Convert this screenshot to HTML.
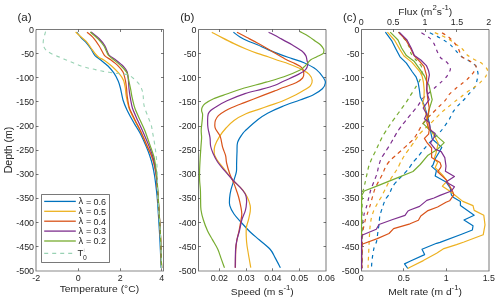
<!DOCTYPE html><html><head><meta charset="utf-8"><style>html,body{margin:0;padding:0;background:#fff;width:500px;height:301px;overflow:hidden}svg{display:block}text{font-family:"Liberation Sans",sans-serif;fill:#262626}</style></head><body>
<div style="will-change:transform;width:500px;height:301px"><svg width="500" height="301" viewBox="0 0 500 301">
<path d="M36.0 270.8V29.5" fill="none" stroke="#262626" stroke-width="1" stroke-opacity="0.6"/>
<path d="M36.0 29.5H163.5V270.8" fill="none" stroke="#262626" stroke-width="1" stroke-opacity="0.62"/>
<path d="M35.5 271.0H164.0" fill="none" stroke="#262626" stroke-width="1.4" stroke-opacity="0.36"/>
<path d="M36.0 53.5h2.5 M163.5 53.5h-2.5 M36.0 77.5h2.5 M163.5 77.5h-2.5 M36.0 101.5h2.5 M163.5 101.5h-2.5 M36.0 126.5h2.5 M163.5 126.5h-2.5 M36.0 150.5h2.5 M163.5 150.5h-2.5 M36.0 174.5h2.5 M163.5 174.5h-2.5 M36.0 198.5h2.5 M163.5 198.5h-2.5 M36.0 222.5h2.5 M163.5 222.5h-2.5 M36.0 246.5h2.5 M163.5 246.5h-2.5 M78.5 270.8v-2.5 M78.5 29.5v2.5 M120.5 270.8v-2.5 M120.5 29.5v2.5 M161.5 270.8v-2.5 M161.5 29.5v2.5" stroke="#262626" stroke-width="1" stroke-opacity="0.62" fill="none"/>
<text x="34" y="32.5" font-size="8.9" text-anchor="end">0</text>
<text x="34" y="56.63" font-size="8.9" text-anchor="end">-50</text>
<text x="34" y="80.76" font-size="8.9" text-anchor="end">-100</text>
<text x="34" y="104.89" font-size="8.9" text-anchor="end">-150</text>
<text x="34" y="129.02" font-size="8.9" text-anchor="end">-200</text>
<text x="34" y="153.15" font-size="8.9" text-anchor="end">-250</text>
<text x="34" y="177.28" font-size="8.9" text-anchor="end">-300</text>
<text x="34" y="201.41" font-size="8.9" text-anchor="end">-350</text>
<text x="34" y="225.54" font-size="8.9" text-anchor="end">-400</text>
<text x="34" y="249.67" font-size="8.9" text-anchor="end">-450</text>
<text x="34" y="273.8" font-size="8.9" text-anchor="end">-500</text>
<path d="M198.5 270.8V29.5" fill="none" stroke="#262626" stroke-width="1" stroke-opacity="0.66"/>
<path d="M198.5 29.5H326.0V270.8" fill="none" stroke="#262626" stroke-width="1" stroke-opacity="0.62"/>
<path d="M198.0 271.0H326.5" fill="none" stroke="#262626" stroke-width="1.4" stroke-opacity="0.36"/>
<path d="M198.5 53.5h2.5 M326.0 53.5h-2.5 M198.5 77.5h2.5 M326.0 77.5h-2.5 M198.5 101.5h2.5 M326.0 101.5h-2.5 M198.5 126.5h2.5 M326.0 126.5h-2.5 M198.5 150.5h2.5 M326.0 150.5h-2.5 M198.5 174.5h2.5 M326.0 174.5h-2.5 M198.5 198.5h2.5 M326.0 198.5h-2.5 M198.5 222.5h2.5 M326.0 222.5h-2.5 M198.5 246.5h2.5 M326.0 246.5h-2.5 M219.5 270.8v-2.5 M219.5 29.5v2.5 M246.5 270.8v-2.5 M246.5 29.5v2.5 M272.5 270.8v-2.5 M272.5 29.5v2.5 M299.5 270.8v-2.5 M299.5 29.5v2.5" stroke="#262626" stroke-width="1" stroke-opacity="0.62" fill="none"/>
<text x="196.5" y="32.5" font-size="8.9" text-anchor="end">0</text>
<text x="196.5" y="56.63" font-size="8.9" text-anchor="end">-50</text>
<text x="196.5" y="80.76" font-size="8.9" text-anchor="end">-100</text>
<text x="196.5" y="104.89" font-size="8.9" text-anchor="end">-150</text>
<text x="196.5" y="129.02" font-size="8.9" text-anchor="end">-200</text>
<text x="196.5" y="153.15" font-size="8.9" text-anchor="end">-250</text>
<text x="196.5" y="177.28" font-size="8.9" text-anchor="end">-300</text>
<text x="196.5" y="201.41" font-size="8.9" text-anchor="end">-350</text>
<text x="196.5" y="225.54" font-size="8.9" text-anchor="end">-400</text>
<text x="196.5" y="249.67" font-size="8.9" text-anchor="end">-450</text>
<text x="196.5" y="273.8" font-size="8.9" text-anchor="end">-500</text>
<path d="M361.5 270.8V29.5" fill="none" stroke="#262626" stroke-width="1" stroke-opacity="0.66"/>
<path d="M361.5 29.5H489.0V270.8" fill="none" stroke="#262626" stroke-width="1" stroke-opacity="0.62"/>
<path d="M361.0 271.0H489.5" fill="none" stroke="#262626" stroke-width="1.4" stroke-opacity="0.36"/>
<path d="M361.5 53.5h2.5 M361.5 77.5h2.5 M361.5 101.5h2.5 M361.5 126.5h2.5 M361.5 150.5h2.5 M361.5 174.5h2.5 M361.5 198.5h2.5 M361.5 222.5h2.5 M361.5 246.5h2.5 M403.5 270.8v-2.5 M446.5 270.8v-2.5 M393.5 29.5v2.5 M425.5 29.5v2.5 M456.5 29.5v2.5" stroke="#262626" stroke-width="1" stroke-opacity="0.62" fill="none"/>
<text x="359.5" y="32.5" font-size="8.9" text-anchor="end">0</text>
<text x="359.5" y="56.63" font-size="8.9" text-anchor="end">-50</text>
<text x="359.5" y="80.76" font-size="8.9" text-anchor="end">-100</text>
<text x="359.5" y="104.89" font-size="8.9" text-anchor="end">-150</text>
<text x="359.5" y="129.02" font-size="8.9" text-anchor="end">-200</text>
<text x="359.5" y="153.15" font-size="8.9" text-anchor="end">-250</text>
<text x="359.5" y="177.28" font-size="8.9" text-anchor="end">-300</text>
<text x="359.5" y="201.41" font-size="8.9" text-anchor="end">-350</text>
<text x="359.5" y="225.54" font-size="8.9" text-anchor="end">-400</text>
<text x="359.5" y="249.67" font-size="8.9" text-anchor="end">-450</text>
<text x="359.5" y="273.8" font-size="8.9" text-anchor="end">-500</text>
<text x="36.2" y="280.6" font-size="8.9" text-anchor="middle">-2</text>
<text x="78.3" y="280.6" font-size="8.9" text-anchor="middle">0</text>
<text x="120.2" y="280.6" font-size="8.9" text-anchor="middle">2</text>
<text x="161.8" y="280.6" font-size="8.9" text-anchor="middle">4</text>
<text x="219.4" y="280.6" font-size="8.9" text-anchor="middle">0.02</text>
<text x="246.1" y="280.6" font-size="8.9" text-anchor="middle">0.03</text>
<text x="272.8" y="280.6" font-size="8.9" text-anchor="middle">0.04</text>
<text x="299.5" y="280.6" font-size="8.9" text-anchor="middle">0.05</text>
<text x="326.2" y="280.6" font-size="8.9" text-anchor="middle">0.06</text>
<text x="361.3" y="280.6" font-size="8.9" text-anchor="middle">0</text>
<text x="403.8" y="280.6" font-size="8.9" text-anchor="middle">0.5</text>
<text x="446.3" y="280.6" font-size="8.9" text-anchor="middle">1</text>
<text x="488.8" y="280.6" font-size="8.9" text-anchor="middle">1.5</text>
<text x="361.3" y="25.1" font-size="8.9" text-anchor="middle">0</text>
<text x="393.18" y="25.1" font-size="8.9" text-anchor="middle">0.5</text>
<text x="425.05" y="25.1" font-size="8.9" text-anchor="middle">1</text>
<text x="456.93" y="25.1" font-size="8.9" text-anchor="middle">1.5</text>
<text x="488.8" y="25.1" font-size="8.9" text-anchor="middle">2</text>
<g transform="translate(17.4,20.7) scale(1,0.92)"><text x="0" y="0" font-size="11.6" text-anchor="start">(a)</text></g>
<g transform="translate(180.2,20.7) scale(1,0.92)"><text x="0" y="0" font-size="11.6" text-anchor="start">(b)</text></g>
<g transform="translate(343.0,20.7) scale(1,0.92)"><text x="0" y="0" font-size="11.6" text-anchor="start">(c)</text></g>
<g transform="translate(99.4,292.2) scale(1,0.92)"><text x="0" y="0" font-size="10.3" text-anchor="middle" textLength="79.5" lengthAdjust="spacing">Temperature (°C)</text></g>
<g transform="translate(262.3,295.0) scale(1,0.92)"><text x="0" y="0" font-size="10.3" text-anchor="middle">Speed (m s<tspan dy="-4.9" font-size="7.8">-1</tspan><tspan dy="4.9">)</tspan></text></g>
<g transform="translate(425.1,295.0) scale(1,0.92)"><text x="0" y="0" font-size="10.3" text-anchor="middle">Melt rate (m d<tspan dy="-4.9" font-size="7.8">-1</tspan><tspan dy="4.9">)</tspan></text></g>
<g transform="translate(425.2,14.9) scale(1,0.92)"><text x="0" y="0" font-size="10.3" text-anchor="middle">Flux (m<tspan dy="-4.9" font-size="7.8">2</tspan><tspan dy="4.9">s</tspan><tspan dy="-4.9" font-size="7.8">-1</tspan><tspan dy="4.9">)</tspan></text></g>
<g transform="translate(12.2,150) rotate(-90) scale(1,1.0)"><text x="0" y="0" font-size="10.6" text-anchor="middle" textLength="46.5" lengthAdjust="spacing">Depth (m)</text></g>
<path d="M76.8 32.2 C77.29 32.82 79.86 36.24 81 37.5 C82.14 38.76 85.43 41.66 86.6 43 C87.77 44.34 90.02 47.53 91 49 C91.98 50.47 93.86 54.32 95 55.6 C96.14 56.88 99.28 58.79 100.8 60 C102.32 61.21 106.46 64.46 108 66 C109.54 67.54 112.81 71.45 114 73.2 C115.19 74.95 117.45 79.27 118.2 81 C118.95 82.73 119.84 85.78 120.4 88 C120.96 90.22 122.23 97.43 123 100 C123.77 102.57 125.72 107.32 127 110 C128.28 112.68 132.48 120.32 134 123 C135.52 125.68 138.6 130.32 140 133 C141.4 135.68 144.89 143.43 146 146 C147.11 148.57 148.74 152.78 149.5 155 C150.26 157.22 151.91 162.55 152.5 165 C153.09 167.45 154.14 173.08 154.6 176 C155.06 178.92 156.07 187.2 156.4 190 C156.73 192.8 157.03 194.87 157.4 200 C157.77 205.13 159.16 226.07 159.6 234 C160.04 241.93 161.01 264.03 161.2 268" stroke="#0072BD" stroke-width="1.2" fill="none"/>
<path d="M75.6 32 C76.11 32.47 78.79 34.93 80 36 C81.21 37.07 84.72 39.8 86 41.2 C87.28 42.6 89.95 46.56 91 48 C92.05 49.44 94.07 52.39 95 53.5 C95.93 54.61 97.97 56.74 99 57.5 C100.03 58.26 102.33 59.01 103.8 60 C105.27 60.99 109.85 64.46 111.6 66 C113.35 67.54 117.4 71.52 118.8 73.2 C120.2 74.88 122.83 78.58 123.6 80.4 C124.37 82.22 125.1 86.98 125.4 88.8 C125.7 90.62 125.78 93.76 126.2 96 C126.62 98.24 128.03 105.2 129 108 C129.97 110.8 133.16 117.32 134.5 120 C135.84 122.68 138.93 127.73 140.5 131 C142.07 134.27 146.66 144.97 148 148 C149.34 151.03 151.23 154.9 152 157 C152.77 159.1 154.1 163.78 154.6 166 C155.1 168.22 155.96 173.2 156.3 176 C156.64 178.8 157.28 187.2 157.5 190 C157.72 192.8 157.86 194.87 158.2 200 C158.54 205.13 160 226.07 160.4 234 C160.8 241.93 161.46 264.03 161.6 268" stroke="#EDB120" stroke-width="1.2" fill="none"/>
<path d="M87 32.2 C87.72 32.83 91.78 35.99 93.2 37.6 C94.62 39.21 97.87 43.9 99.2 46 C100.53 48.1 103.22 53.97 104.6 55.6 C105.98 57.23 109.48 58.86 111 60 C112.52 61.14 116.2 64 117.6 65.4 C119 66.8 122.09 70.25 123 72 C123.91 73.75 124.98 78.44 125.4 80.4 C125.82 82.36 126.39 86.98 126.6 88.8 C126.81 90.62 126.87 93.76 127.2 96 C127.53 98.24 128.49 105.2 129.4 108 C130.31 110.8 133.71 117.32 135 120 C136.29 122.68 138.98 127.73 140.5 131 C142.02 134.27 146.66 144.97 148 148 C149.34 151.03 151.23 154.9 152 157 C152.77 159.1 154.1 163.78 154.6 166 C155.1 168.22 155.96 173.2 156.3 176 C156.64 178.8 157.28 187.2 157.5 190 C157.72 192.8 157.86 194.87 158.2 200 C158.54 205.13 160 226.07 160.4 234 C160.8 241.93 161.46 264.03 161.6 268" stroke="#D95319" stroke-width="1.2" fill="none"/>
<path d="M91 32 C91.93 32.76 97.37 36.87 99 38.5 C100.63 40.13 103.83 44.08 105 46 C106.17 47.92 107.74 53.37 109 55 C110.26 56.63 114.1 58.65 115.8 60 C117.5 61.35 122.27 65.2 123.6 66.6 C124.93 68 126.64 70.39 127.2 72 C127.76 73.61 128.19 78.44 128.4 80.4 C128.61 82.36 128.81 86.98 129 88.8 C129.19 90.62 129.6 93.76 130 96 C130.4 98.24 131.53 105.2 132.4 108 C133.28 110.8 136.31 117.32 137.5 120 C138.69 122.68 141.16 127.73 142.6 131 C144.03 134.27 148.59 144.97 149.8 148 C151.01 151.03 152.39 154.9 153 157 C153.61 159.1 154.59 163.78 155 166 C155.41 168.22 156.2 173.2 156.5 176 C156.8 178.8 157.39 187.2 157.6 190 C157.81 192.8 157.97 194.87 158.3 200 C158.63 205.13 160.02 226.07 160.4 234 C160.78 241.93 161.46 264.03 161.6 268" stroke="#7E2F8E" stroke-width="1.2" fill="none"/>
<path d="M90.2 32 C91.11 32.79 96.39 37.17 98 38.8 C99.61 40.43 102.81 44.11 104 46 C105.19 47.89 107.03 53.37 108.2 55 C109.37 56.63 112.48 58.72 114 60 C115.52 61.28 119.66 64.46 121.2 66 C122.74 67.54 126.29 71.38 127.2 73.2 C128.11 75.02 128.58 79.64 129 81.6 C129.42 83.56 130.47 88.32 130.8 90 C131.13 91.68 131.33 93.9 131.8 96 C132.27 98.1 133.84 105.2 134.8 108 C135.76 110.8 138.81 117.32 140 120 C141.19 122.68 143.72 127.73 145 131 C146.28 134.27 149.95 144.97 151 148 C152.05 151.03 153.46 154.9 154 157 C154.54 159.1 155.27 163.78 155.6 166 C155.93 168.22 156.54 173.2 156.8 176 C157.06 178.8 157.61 187.2 157.8 190 C157.99 192.8 158.1 194.87 158.4 200 C158.7 205.13 160.03 226.07 160.4 234 C160.77 241.93 161.46 264.03 161.6 268" stroke="#77AC30" stroke-width="1.2" fill="none"/>
<path d="M45.6 31.6 C45.23 33 43.73 37.6 43.4 40 C43.07 42.4 43.13 44.3 43.6 46 C44.07 47.7 44.87 48.9 46.2 50.2 C47.53 51.5 49.3 52.6 51.6 53.8 C53.9 55 57.4 56.3 60 57.4 C62.6 58.5 64.8 59.4 67.2 60.4 C69.6 61.4 72.1 62.47 74.4 63.4 C76.7 64.33 78.6 65.2 81 66 C83.4 66.8 86.4 67.6 88.8 68.2 C91.2 68.8 93 69.07 95.4 69.6 C97.8 70.13 100.5 70.9 103.2 71.4 C105.9 71.9 108.8 72.2 111.6 72.6 C114.4 73 117.2 73.4 120 73.8 C122.8 74.2 126 74.1 128.4 75 C130.8 75.9 132.5 77.53 134.4 79.2 C136.3 80.87 138.47 83 139.8 85 C141.13 87 141.83 89.37 142.4 91.2 C142.97 93.03 142.9 93.53 143.2 96 C143.5 98.47 143.3 102.3 144.2 106 C145.1 109.7 147.43 115.03 148.6 118.2 C149.77 121.37 150.55 122.7 151.2 125 C151.85 127.3 151.83 128.17 152.5 132 C153.17 135.83 154.45 142.33 155.2 148 C155.95 153.67 156.53 157.33 157 166 C157.47 174.67 157.43 188.67 158 200 C158.57 211.33 159.8 222.67 160.4 234 C161 245.33 161.4 262.33 161.6 268" stroke="#99d2b4" stroke-width="1.1" fill="none" stroke-dasharray="3.8 4"/>
<path d="M233.4 32.2 C234.5 33 237.5 35.5 240 37 C242.5 38.5 245.5 39.9 248.4 41.2 C251.3 42.5 254.13 43.4 257.4 44.8 C260.67 46.2 264.23 48 268 49.6 C271.77 51.2 276 52.9 280 54.4 C284 55.9 288 57.2 292 58.6 C296 60 299.93 60.97 304 62.8 C308.07 64.63 313.13 67.07 316.4 69.6 C319.67 72.13 322.1 75.8 323.6 78 C325.1 80.2 325.6 81 325.4 82.8 C325.2 84.6 324.47 86.77 322.4 88.8 C320.33 90.83 316.73 93.13 313 95 C309.27 96.87 305.17 98.07 300 100 C294.83 101.93 287.4 104.4 282 106.6 C276.6 108.8 271.6 111.05 267.6 113.2 C263.6 115.35 261.6 116.7 258 119.5 C254.4 122.3 248.6 127.58 246 130 C243.4 132.42 243.8 131.93 242.4 134 C241 136.07 238.5 139.4 237.6 142.4 C236.7 145.4 237.17 148.4 237 152 C236.83 155.6 236.7 160.73 236.6 164 C236.5 167.27 236.83 168.93 236.4 171.6 C235.97 174.27 234.9 177 234 180 C233.1 183 231.73 186.6 231 189.6 C230.27 192.6 229.8 195.33 229.6 198 C229.4 200.67 229.07 202.93 229.8 205.6 C230.53 208.27 232.1 211.2 234 214 C235.9 216.8 238.5 219.4 241.2 222.4 C243.9 225.4 247.2 229.1 250.2 232 C253.2 234.9 255.85 236.88 259.2 239.8 C262.55 242.72 267.63 246.48 270.3 249.5 C272.97 252.52 273.52 254.87 275.2 257.9 C276.88 260.93 279.53 266.07 280.4 267.7" stroke="#0072BD" stroke-width="1.2" fill="none"/>
<path d="M211.8 32.2 C213.5 33.1 218.3 35.7 222 37.6 C225.7 39.5 230 41.7 234 43.6 C238 45.5 242.1 47.37 246 49 C249.9 50.63 253.73 52.1 257.4 53.4 C261.07 54.7 264.65 55.67 268 56.8 C271.35 57.93 274 59 277.5 60.2 C281 61.4 284.92 62.43 289 64 C293.08 65.57 298.63 67.87 302 69.6 C305.37 71.33 307.5 72.6 309.2 74.4 C310.9 76.2 312 78.5 312.2 80.4 C312.4 82.3 311.7 84.2 310.4 85.8 C309.1 87.4 306.8 88.5 304.4 90 C302 91.5 299.73 92.93 296 94.8 C292.27 96.67 286.33 99.43 282 101.2 C277.67 102.97 274 104 270 105.4 C266 106.8 262 108.2 258 109.6 C254 111 250 112 246 113.8 C242 115.6 237.33 118.03 234 120.4 C230.67 122.77 228.4 125.33 226 128 C223.6 130.67 221.47 133.4 219.6 136.4 C217.73 139.4 215.7 143.2 214.8 146 C213.9 148.8 214 151.2 214.2 153.2 C214.4 155.2 215.2 156.45 216 158 C216.8 159.55 217.5 160.5 219 162.5 C220.5 164.5 222.7 167.08 225 170 C227.3 172.92 229.9 176.73 232.8 180 C235.7 183.27 240 186.77 242.4 189.6 C244.8 192.43 245.9 194.33 247.2 197 C248.5 199.67 249.7 203.17 250.2 205.6 C250.7 208.03 250.5 209.2 250.2 211.6 C249.9 214 249.05 217.2 248.4 220 C247.75 222.8 246.6 224.73 246.3 228.4 C246 232.07 246.25 237.73 246.6 242 C246.95 246.27 247.7 249.72 248.4 254 C249.1 258.28 250.4 265.42 250.8 267.7" stroke="#EDB120" stroke-width="1.2" fill="none"/>
<path d="M237 32.2 C238.5 33 242.6 35.2 246 37 C249.4 38.8 253.73 41 257.4 43 C261.07 45 264.23 46.83 268 49 C271.77 51.17 276.83 54.17 280 56 C283.17 57.83 284.5 58.73 287 60 C289.5 61.27 292.5 62.3 295 63.6 C297.5 64.9 300.53 66.2 302 67.8 C303.47 69.4 303.7 71.5 303.8 73.2 C303.9 74.9 303.9 76.4 302.6 78 C301.3 79.6 299.1 81.27 296 82.8 C292.9 84.33 287.5 85.87 284 87.2 C280.5 88.53 278.5 89.43 275 90.8 C271.5 92.17 268 93.47 263 95.4 C258 97.33 250.17 100.38 245 102.4 C239.83 104.42 235.33 106.07 232 107.5 C228.67 108.93 227.27 109.65 225 111 C222.73 112.35 220 114.03 218.4 115.6 C216.8 117.17 216 118.8 215.4 120.4 C214.8 122 214.77 123.77 214.8 125.2 C214.83 126.63 214.7 127.13 215.6 129 C216.5 130.87 219.03 133.37 220.2 136.4 C221.37 139.43 221.7 144 222.6 147.2 C223.5 150.4 224.93 152.97 225.6 155.6 C226.27 158.23 225.9 159.93 226.6 163 C227.3 166.07 228.57 170.57 229.8 174 C231.03 177.43 232.8 180.6 234 183.6 C235.2 186.6 236.23 189.77 237 192 C237.77 194.23 238 194.73 238.6 197 C239.2 199.27 240.07 202.77 240.6 205.6 C241.13 208.43 241.8 211.2 241.8 214 C241.8 216.8 241.07 219.57 240.6 222.4 C240.13 225.23 239.6 228.13 239 231 C238.4 233.87 237.53 236.57 237 239.6 C236.47 242.63 236.07 244.52 235.8 249.2 C235.53 253.88 235.47 264.62 235.4 267.7" stroke="#D95319" stroke-width="1.2" fill="none"/>
<path d="M268.6 32.2 C270.5 33.2 276.1 36.1 280 38.2 C283.9 40.3 288.4 42.7 292 44.8 C295.6 46.9 299.3 49 301.6 50.8 C303.9 52.6 304.9 53.98 305.8 55.6 C306.7 57.22 306.67 59.02 307 60.5 C307.33 61.98 308.03 62.98 307.8 64.5 C307.57 66.02 307.17 67.95 305.6 69.6 C304.03 71.25 302 72.5 298.4 74.4 C294.8 76.3 287.9 79.2 284 81 C280.1 82.8 278.67 83.83 275 85.2 C271.33 86.57 267 87.8 262 89.2 C257 90.6 250.83 91.67 245 93.6 C239.17 95.53 232 98.5 227 100.8 C222 103.1 217.73 105.78 215 107.4 C212.27 109.02 211.73 109.4 210.6 110.5 C209.47 111.6 208.7 112.35 208.2 114 C207.7 115.65 207.63 118.07 207.6 120.4 C207.57 122.73 207.6 125.13 208 128 C208.4 130.87 209.57 134.6 210 137.6 C210.43 140.6 210.1 143.4 210.6 146 C211.1 148.6 211.83 150.53 213 153.2 C214.17 155.87 215.7 159.13 217.6 162 C219.5 164.87 221.87 167.4 224.4 170.4 C226.93 173.4 230.2 177.2 232.8 180 C235.4 182.8 238 185 240 187.2 C242 189.4 243.77 191.57 244.8 193.2 C245.83 194.83 245.9 195.53 246.2 197 C246.5 198.47 246.73 199.77 246.6 202 C246.47 204.23 246.2 207.4 245.4 210.4 C244.6 213.4 242.8 216.57 241.8 220 C240.8 223.43 240.2 227.73 239.4 231 C238.6 234.27 237.63 236.57 237 239.6 C236.37 242.63 235.9 244.52 235.6 249.2 C235.3 253.88 235.27 264.62 235.2 267.7" stroke="#7E2F8E" stroke-width="1.2" fill="none"/>
<path d="M300 31.6 C301.47 32.4 306.23 34.8 308.8 36.4 C311.37 38 313.47 39.8 315.4 41.2 C317.33 42.6 319.03 43.5 320.4 44.8 C321.77 46.1 323.03 47.88 323.6 49 C324.17 50.12 323.93 50.7 323.8 51.5 C323.67 52.3 323.97 52.92 322.8 53.8 C321.63 54.68 318.8 55.8 316.8 56.8 C314.8 57.8 312.37 58.7 310.8 59.8 C309.23 60.9 308.53 62.2 307.4 63.4 C306.27 64.6 305.3 65.87 304 67 C302.7 68.13 302.93 68.57 299.6 70.2 C296.27 71.83 289.6 74.8 284 76.8 C278.4 78.8 273 80.2 266 82.2 C259 84.2 248.53 86.83 242 88.8 C235.47 90.77 231.53 92.33 226.8 94 C222.07 95.67 217.2 97.2 213.6 98.8 C210 100.4 207.1 102.2 205.2 103.6 C203.3 105 202.8 106 202.2 107.2 C201.6 108.4 201.53 109.6 201.6 110.8 C201.67 112 202.5 112.8 202.6 114.4 C202.7 116 202.43 117.8 202.2 120.4 C201.97 123 201.3 127.13 201.2 130 C201.1 132.87 201.63 134.93 201.6 137.6 C201.57 140.27 201.23 142.6 201 146 C200.77 149.4 200.43 154 200.2 158 C199.97 162 199.7 166.33 199.6 170 C199.5 173.67 199.47 176.67 199.6 180 C199.73 183.33 200.23 186.67 200.4 190 C200.57 193.33 200.5 196.67 200.6 200 C200.7 203.33 200.53 206.67 201 210 C201.47 213.33 202.3 216.5 203.4 220 C204.5 223.5 206.1 227.73 207.6 231 C209.1 234.27 210.7 236.57 212.4 239.6 C214.1 242.63 216.4 246.2 217.8 249.2 C219.2 252.2 219.8 254.8 220.8 257.6 C221.8 260.4 223.18 264.32 223.8 266 C224.42 267.68 224.38 267.42 224.5 267.7" stroke="#77AC30" stroke-width="1.2" fill="none"/>
<path d="M429.8 32.8 C430.54 33.16 435.74 35.62 437.2 36.4 C438.66 37.18 443.02 39.7 444.4 40.6 C445.78 41.5 449.8 44.32 451 45.4 C452.2 46.48 455.32 50.26 456.4 51.4 C457.48 52.54 460.6 55.9 461.8 56.8 C463 57.7 467.02 59.52 468.4 60.4 C469.78 61.28 474.64 64.3 475.6 65.6 C476.56 66.9 477.88 71.84 478 73.4 C478.12 74.96 477.16 79.76 476.8 81.2 C476.44 82.64 475.12 86.6 474.4 87.8 C473.68 89 470.58 92.08 469.6 93.2 C468.62 94.32 465.76 97.76 464.6 99 C463.44 100.24 459.14 104.34 458 105.6 C456.86 106.86 454.04 110.28 453.2 111.6 C452.36 112.92 450.44 117.36 449.6 118.8 C448.76 120.24 445.7 124.74 444.8 126 C443.9 127.26 441.88 130 440.6 131.4 C439.32 132.8 433.68 138.22 432 140 C430.32 141.78 425.12 147.62 423.8 149.2 C422.48 150.78 419.88 154.48 418.8 155.8 C417.72 157.12 414.02 161.1 413 162.4 C411.98 163.7 409.58 167.56 408.6 168.8 C407.62 170.04 404.28 173.66 403.2 174.8 C402.12 175.94 398.88 179 397.8 180.2 C396.72 181.4 393.24 185.42 392.4 186.8 C391.56 188.18 390.12 192.7 389.4 194 C388.68 195.3 385.92 198.38 385.2 199.8 C384.48 201.22 382.74 206.58 382.2 208.2 C381.66 209.82 380.1 214.5 379.8 216 C379.5 217.5 379.38 221.7 379.2 223.2 C379.02 224.7 378.26 229.19 378 231 C377.74 232.81 377 239.6 376.6 241.3 C376.2 243 374.4 246.54 374 248 C373.6 249.46 372.83 254.31 372.6 255.9 C372.37 257.49 371.81 262.69 371.7 263.9 C371.59 265.11 371.52 267.59 371.5 268" stroke="#0072BD" stroke-width="1.2" fill="none" stroke-dasharray="3.8 4"/>
<path d="M434.8 32.6 C435.52 32.92 440.56 35.12 442 35.8 C443.44 36.48 447.82 38.56 449.2 39.4 C450.58 40.24 454.48 43.24 455.8 44.2 C457.12 45.16 461.26 47.92 462.4 49 C463.54 50.08 466.06 53.98 467.2 55 C468.34 56.02 472.42 58.42 473.8 59.2 C475.18 59.98 479.74 61.92 481 62.8 C482.26 63.68 485.74 67.18 486.4 68 C487.06 68.82 487.66 70.16 487.6 71 C487.54 71.84 486.52 75.26 485.8 76.4 C485.08 77.54 481.54 81.32 480.4 82.4 C479.26 83.48 475.72 86.24 474.4 87.2 C473.08 88.16 468.52 91.04 467.2 92 C465.88 92.96 462.42 95.86 461.2 96.8 C459.98 97.74 456.28 100.4 455 101.4 C453.72 102.4 449.66 105.78 448.4 106.8 C447.14 107.82 443.6 110.52 442.4 111.6 C441.2 112.68 437.54 116.46 436.4 117.6 C435.26 118.74 432.14 121.92 431 123 C429.86 124.08 426.22 127.22 425 128.4 C423.78 129.58 419.84 133.5 418.8 134.8 C417.76 136.1 415.5 140.08 414.6 141.4 C413.7 142.72 410.76 146.68 409.8 148 C408.84 149.32 405.9 153.22 405 154.6 C404.1 155.98 401.52 160.44 400.8 161.8 C400.08 163.16 398.58 166.84 397.8 168.2 C397.02 169.56 393.9 174.02 393 175.4 C392.1 176.78 389.58 180.62 388.8 182 C388.02 183.38 385.92 187.76 385.2 189.2 C384.48 190.64 382.38 194.98 381.6 196.4 C380.82 197.82 378.18 201.98 377.4 203.4 C376.62 204.82 374.4 209.16 373.8 210.6 C373.2 212.04 371.76 216.3 371.4 217.8 C371.04 219.3 370.38 224.1 370.2 225.6 C370.02 227.1 369.82 228.57 369.6 232.8 C369.38 237.03 368.16 264.39 368 267.9" stroke="#EDB120" stroke-width="1.2" fill="none" stroke-dasharray="3.8 4"/>
<path d="M442 32.8 C442.66 33.22 447.34 35.98 448.6 37 C449.86 38.02 453.58 41.74 454.6 43 C455.62 44.26 458.08 48.22 458.8 49.6 C459.52 50.98 460.78 55.72 461.8 56.8 C462.82 57.88 467.74 59.64 469 60.4 C470.26 61.16 473.68 63.76 474.4 64.4 C475.12 65.04 476.32 65.96 476.2 66.8 C476.08 67.64 474.1 71.54 473.2 72.8 C472.3 74.06 468.4 78.26 467.2 79.4 C466 80.54 462.4 83.24 461.2 84.2 C460 85.16 456.4 87.98 455.2 89 C454 90.02 450.18 93.28 449.2 94.4 C448.22 95.52 446.44 98.96 445.4 100.2 C444.36 101.44 440.06 105.54 438.8 106.8 C437.54 108.06 434 111.6 432.8 112.8 C431.6 114 427.88 117.6 426.8 118.8 C425.72 120 422.82 123.58 422 124.8 C421.18 126.02 419.4 129.64 418.6 131 C417.8 132.36 415.06 137.06 414 138.4 C412.94 139.74 409.2 143.26 408 144.4 C406.8 145.54 403.2 148.72 402 149.8 C400.8 150.88 397.2 154.12 396 155.2 C394.8 156.28 391.02 159.48 390 160.6 C388.98 161.72 386.58 164.98 385.8 166.4 C385.02 167.82 382.92 173.3 382.2 174.8 C381.48 176.3 379.32 180.02 378.6 181.4 C377.88 182.78 375.6 187.1 375 188.6 C374.4 190.1 373.08 194.74 372.6 196.4 C372.12 198.06 370.68 203.6 370.2 205.2 C369.72 206.8 368.28 210.96 367.8 212.4 C367.32 213.84 365.82 218.1 365.4 219.6 C364.98 221.1 363.89 225.86 363.6 227.4 C363.31 228.94 362.66 230.94 362.5 235 C362.34 239.06 362.05 264.7 362 268" stroke="#D95319" stroke-width="1.2" fill="none" stroke-dasharray="3.8 4"/>
<path d="M421.4 32.8 C422.18 33.28 427.94 36.52 429.2 37.6 C430.46 38.68 433.2 42.22 434 43.6 C434.8 44.98 436.52 49.96 437.2 51.4 C437.88 52.84 439.78 56.86 440.8 58 C441.82 59.14 446.44 61.68 447.4 62.8 C448.36 63.92 450.46 67.84 450.4 69.2 C450.34 70.56 447.76 75.08 446.8 76.4 C445.84 77.72 442 81.26 440.8 82.4 C439.6 83.54 435.88 86.84 434.8 87.8 C433.72 88.76 431.2 90.94 430 92 C428.8 93.06 424 97.04 422.8 98.4 C421.6 99.76 419.02 104.22 418 105.6 C416.98 106.98 413.68 110.88 412.6 112.2 C411.52 113.52 408.22 117.54 407.2 118.8 C406.18 120.06 403.36 123.54 402.4 124.8 C401.44 126.06 398.48 130.04 397.6 131.4 C396.72 132.76 394.42 136.98 393.6 138.4 C392.78 139.82 390.24 144.22 389.4 145.6 C388.56 146.98 386.04 150.88 385.2 152.2 C384.36 153.52 381.66 157.38 381 158.8 C380.34 160.22 379.02 164.86 378.6 166.4 C378.18 167.94 377.28 172.64 376.8 174.2 C376.32 175.76 374.4 180.44 373.8 182 C373.2 183.56 371.34 188.08 370.8 189.8 C370.26 191.52 368.82 197.54 368.4 199.2 C367.98 200.86 367.02 204.96 366.6 206.4 C366.18 207.84 364.56 212.16 364.2 213.6 C363.84 215.04 363.22 219.16 363 220.8 C362.78 222.44 362.12 225.28 362 230 C361.88 234.72 361.82 264.2 361.8 268" stroke="#7E2F8E" stroke-width="1.2" fill="none" stroke-dasharray="3.8 4"/>
<path d="M398.4 32.2 C399.09 32.98 404.21 38.52 405.3 40 C406.39 41.48 408.73 45.64 409.3 47 C409.87 48.36 410.33 52.3 411 53.6 C411.67 54.9 414.98 58.76 416 60 C417.02 61.24 420.6 65 421.2 66 C421.8 67 421.94 69.12 422 70 C422.06 70.88 422.06 73.68 421.8 74.8 C421.54 75.92 420.04 79.92 419.4 81.2 C418.76 82.48 416.38 86.04 415.4 87.6 C414.42 89.16 410.54 95.3 409.6 96.8 C408.66 98.3 406.84 101.36 406 102.6 C405.16 103.84 402.16 107.88 401.2 109.2 C400.24 110.52 397.36 114.48 396.4 115.8 C395.44 117.12 392.56 121.02 391.6 122.4 C390.64 123.78 387.68 128.24 386.8 129.6 C385.92 130.96 383.56 134.64 382.8 136 C382.04 137.36 379.92 141.7 379.2 143.2 C378.48 144.7 376.32 149.5 375.6 151 C374.88 152.5 372.66 156.76 372 158.2 C371.34 159.64 369.48 163.92 369 165.4 C368.52 166.88 367.56 171.4 367.2 173 C366.84 174.6 365.76 179.78 365.4 181.4 C365.04 183.02 363.92 187.64 363.6 189.2 C363.28 190.76 362.38 189.12 362.2 197 C362.02 204.88 361.84 260.9 361.8 268" stroke="#77AC30" stroke-width="1.2" fill="none" stroke-dasharray="3.8 4"/>
<path d="M385.4 32.2 L392 41.2 L395.6 48.4 L400 56.8 L406.4 63.2 L412.4 72 L416.2 77.2 L418.2 82.8 L419.4 90 L420.3 97 L424.4 105.6 L426.8 114 L429.2 122.4 L430.5 131 L432.2 139 L441.8 147.4 L438.8 152.8 L435.2 158.8 L433 165 L431.6 166.4 L436.4 170.6 L435.2 176 L446 182 L450.2 188 L451.4 194.8 L453.2 197.2 L460.4 201.4 L460.4 205.6 L474.2 215.2 L464 220 L473 225.8 L472.4 230 L461.6 234.2 L440 242.4 L436.6 243.3 L422 249.3 L424.6 254.6 L410 261.2 L404.5 263.9 L407.8 268.5" stroke="#0072BD" stroke-width="1.2" fill="none" stroke-linejoin="round"/>
<path d="M387.4 32.2 L394.4 40 L400 49.6 L404 56 L412 62.4 L419.8 71.6 L422.2 76.4 L423.4 82 L424.2 90 L424 98 L422.6 103.2 L425 109.2 L426 115 L428 122 L430 128 L433 134 L435.8 138.4 L438.2 143.2 L435.8 154 L434 158.8 L437.6 162.4 L435.2 167.6 L442.4 174.8 L447.2 180.8 L442.4 186.2 L449.6 191 L454.4 194.8 L462.8 201.4 L473 205.6 L474.2 210.4 L483.8 215.2 L485 224.8 L483.2 234.8 L464 242 L456.5 244.6 L443.9 248.6 L436.6 253.2 L423.3 260.6 L410 267.2 L407.8 268.5" stroke="#EDB120" stroke-width="1.2" fill="none" stroke-linejoin="round"/>
<path d="M390.2 32.2 L398 40 L401.6 48 L406.4 55.6 L414.4 61.6 L421 70.8 L424.2 75.6 L426.6 81.2 L429 85.2 L431.8 98 L432.2 99.6 L429.2 109.2 L428 117.6 L423.2 123.6 L426.8 127.2 L429.8 130 L434 133.6 L444.2 142.6 L437.6 149.2 L428 155.2 L420.2 164.5 L413 171.5 L396 178.4 L378 185.6 L364.2 191 L361.6 195.8 L361.5 269" stroke="#77AC30" stroke-width="1.2" fill="none" stroke-linejoin="round"/>
<path d="M398.6 32.2 L405.8 40 L410.4 48 L414 55.6 L418.4 60 L424 66.4 L426.6 75.6 L426.6 82 L427 90 L427.6 98 L429.2 108 L426.8 122.4 L429.2 130 L428.6 134.2 L424.4 138.4 L427.4 143.2 L431.6 148 L431.6 157.6 L440 162.4 L441.2 166 L440.6 167.6 L437.6 171.8 L446 179.6 L450.8 188 L453.2 192.8 L453.8 194.8 L449.6 200.8 L446 202.2 L437.6 207 L428 210.6 L420.8 216 L418.4 220.2 L410 223.8 L393.6 228.6 L389 233.5 L377.3 238.6 L362.7 244 L361.8 245.3 L361.6 268.5" stroke="#D95319" stroke-width="1.2" fill="none" stroke-linejoin="round"/>
<path d="M399.2 32.2 L407 40 L411.2 48 L414.4 55.6 L420.8 60 L426.4 65.6 L428.6 70.8 L429.4 74.8 L428.2 81.2 L427 85.2 L426.6 90 L428 96 L429.2 99.6 L423.2 108 L426.8 114 L424.4 118.8 L429.2 122.4 L430.4 130 L435.2 133.6 L434 137.2 L430.4 143.2 L435.2 149.2 L441.2 151.6 L444.8 157.6 L446 166 L445.4 171.2 L454.4 176.6 L446 182 L454.4 186.8 L451.4 191 L440 195.4 L434 198 L426.8 200.4 L419.6 206.4 L410 210 L408 211 L405 215.4 L392 219.8 L379 224.5 L376.3 229.2 L362.5 235 L361.6 237 L361.6 269.3" stroke="#7E2F8E" stroke-width="1.2" fill="none" stroke-linejoin="round"/>
<path d="M41.5 194.5H109.5V262.5H41.5Z" fill="#fff" stroke="#262626" stroke-width="1" stroke-opacity="0.62"/>
<path d="M44.2 201.4H75.8" stroke="#0072BD" stroke-width="1.3"/>
<text x="78.4" y="204.3" font-family="Liberation Serif" font-size="9.2">λ</text><text x="88.6" y="204.5" font-size="9.2" text-anchor="middle">=</text><text x="93.6" y="204.7" font-size="9">0.6</text>
<path d="M44.2 211.3H75.8" stroke="#EDB120" stroke-width="1.3"/>
<text x="78.4" y="214.2" font-family="Liberation Serif" font-size="9.2">λ</text><text x="88.6" y="214.4" font-size="9.2" text-anchor="middle">=</text><text x="93.6" y="214.6" font-size="9">0.5</text>
<path d="M44.2 221.2H75.8" stroke="#D95319" stroke-width="1.3"/>
<text x="78.4" y="224.1" font-family="Liberation Serif" font-size="9.2">λ</text><text x="88.6" y="224.3" font-size="9.2" text-anchor="middle">=</text><text x="93.6" y="224.5" font-size="9">0.4</text>
<path d="M44.2 231.1H75.8" stroke="#7E2F8E" stroke-width="1.3"/>
<text x="78.4" y="234" font-family="Liberation Serif" font-size="9.2">λ</text><text x="88.6" y="234.2" font-size="9.2" text-anchor="middle">=</text><text x="93.6" y="234.4" font-size="9">0.3</text>
<path d="M44.2 241H75.8" stroke="#77AC30" stroke-width="1.3"/>
<text x="78.4" y="243.9" font-family="Liberation Serif" font-size="9.2">λ</text><text x="88.6" y="244.1" font-size="9.2" text-anchor="middle">=</text><text x="93.6" y="244.3" font-size="9">0.2</text>
<path d="M44.2 253.4H75.8" stroke="#99d2b4" stroke-width="1.3" stroke-dasharray="4 4"/>
<text x="77.6" y="255.7" font-size="9.5">T</text><text x="82.9" y="259.8" font-size="6.8">0</text><text x="83.6" y="252" font-size="6" style="fill:#bbb">i</text>
</svg></div></body></html>
